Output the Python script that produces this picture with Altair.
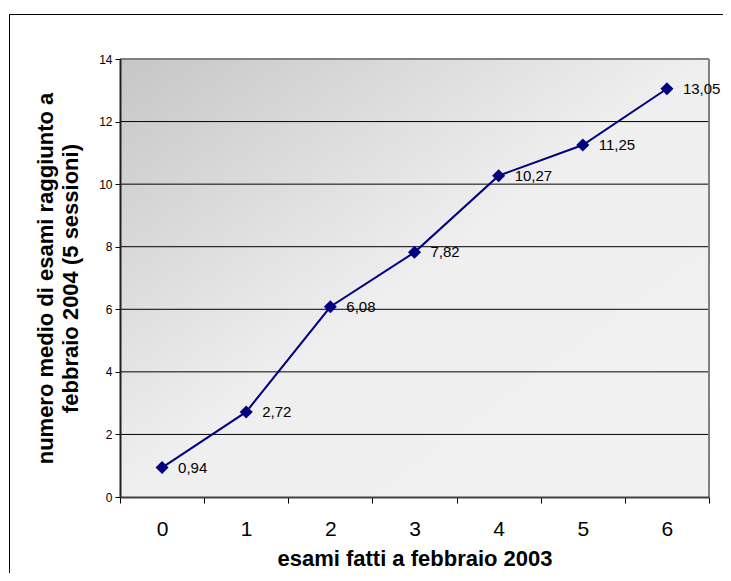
import altair as alt
import pandas as pd

# ---- data ----
cats = [0, 1, 2, 3, 4, 5, 6]
vals = [0.94, 2.72, 6.08, 7.82, 10.27, 11.25, 13.05]
y_ticks = [0, 2, 4, 6, 8, 10, 12, 14]
grid_vals = [2, 4, 6, 8, 10, 12]
x_title = "esami fatti a febbraio 2003"
y_title = ["numero medio di esami raggiunto a", "febbraio 2004 (5 sessioni)"]

W, H = 589, 438
PAD = {"left": 112, "top": 51, "right": 14, "bottom": 76}
FONT = "Liberation Sans"
NAVY = "#000080"

x_lo, x_hi = cats[0] - 0.5, cats[-1] + 0.5
y_lo, y_hi = y_ticks[0], y_ticks[-1]
band = W / len(cats)

pts = pd.DataFrame({"x": cats, "y": vals})
bg_df = pd.DataFrame({"x": [x_lo], "x2": [x_hi], "y": [y_lo], "y2": [y_hi]})
grid_df = pd.DataFrame({"y": grid_vals, "x": [x_lo] * len(grid_vals), "x2": [x_hi] * len(grid_vals)})
top_df = pd.DataFrame({"y": [y_hi], "x": [x_lo], "x2": [x_hi]})
right_df = pd.DataFrame({"x": [x_hi], "y": [y_lo], "y2": [y_hi]})

xscale = alt.Scale(domain=[x_lo, x_hi], nice=False, zero=False)
yscale = alt.Scale(domain=[y_lo, y_hi], nice=False, zero=False)

xaxis = alt.Axis(
    title=x_title,
    values=[c - 0.5 for c in cats] + [x_hi],
    labelExpr="datum.value < %s ? format(datum.value + 0.5, 'd') : ''" % cats[-1],
    labelOffset=band / 2,
    labelOverlap=False, labelFlush=False, labelBound=False,
    labelFont=FONT, labelFontSize=21, labelColor="black", labelPadding=15,
    tickSize=6, tickColor="black", tickWidth=1,
    domainColor="#404040", domainWidth=2,
    grid=False,
    titleFont=FONT, titleFontSize=22, titleFontWeight="bold", titleColor="black",
    titlePadding=9,
    zindex=1,
)
yaxis = alt.Axis(
    title=y_title,
    values=y_ticks,
    labelFont=FONT, labelFontSize=12, labelColor="black", labelPadding=3,
    tickSize=5, tickColor="black", tickWidth=1,
    domainColor="#202020", domainWidth=2,
    grid=False,
    titleFont=FONT, titleFontSize=22, titleFontWeight="bold", titleColor="black",
    titleLineHeight=25, titlePadding=16,
    zindex=1,
)

X = alt.X("x:Q", scale=xscale, axis=xaxis)
Y = alt.Y("y:Q", scale=yscale, axis=yaxis)

gradient = alt.Gradient(
    gradient="linear",
    stops=[
        alt.GradientStop(offset=0, color="#c6c6c6"),
        alt.GradientStop(offset=0.5, color="#efefef"),
        alt.GradientStop(offset=1, color="#f1f1f1"),
    ],
    x1=0, y1=0, x2=1, y2=1,
)

bg = alt.Chart(bg_df).mark_rect(color=gradient).encode(x=X, x2="x2:Q", y=Y, y2="y2:Q")
grid = alt.Chart(grid_df).mark_rule(color="black", strokeWidth=1).encode(x=X, x2="x2:Q", y=Y)
top = alt.Chart(top_df).mark_rule(color="#808080", strokeWidth=2).encode(x=X, x2="x2:Q", y=Y)
right = alt.Chart(right_df).mark_rule(color="#808080", strokeWidth=2).encode(x=X, y=Y, y2="y2:Q")

line = alt.Chart(pts).mark_line(color=NAVY, strokeWidth=2).encode(x=X, y=Y)
points = alt.Chart(pts).mark_point(shape="diamond", filled=True, color=NAVY, size=170, opacity=1).encode(x=X, y=Y)
labels = alt.Chart(pts).transform_calculate(
    lab="replace(format(datum.y, '.2f'), '.', ',')"
).mark_text(align="left", baseline="middle", dx=16, font=FONT, fontSize=15, color="black").encode(
    x=X, y=Y, text="lab:N"
)

one = alt.Data(values=[{}])
frame_left = alt.Chart(one).mark_rule(color="black", strokeWidth=1).encode(
    x=alt.value(-PAD["left"] + 1.5), y=alt.value(-PAD["top"] + 6.5), y2=alt.value(H + PAD["bottom"])
)
frame_top = alt.Chart(one).mark_rule(color="black", strokeWidth=1).encode(
    x=alt.value(-PAD["left"] + 1.5), x2=alt.value(W + PAD["right"]), y=alt.value(-PAD["top"] + 6.5)
)

chart = alt.layer(bg, grid, top, right, line, points, labels, frame_left, frame_top).properties(
    width=W, height=H, padding=PAD, autosize="none", background="white"
).configure_view(stroke=None)

chart.save("out.html", embed_options={"renderer": "svg", "actions": False})
